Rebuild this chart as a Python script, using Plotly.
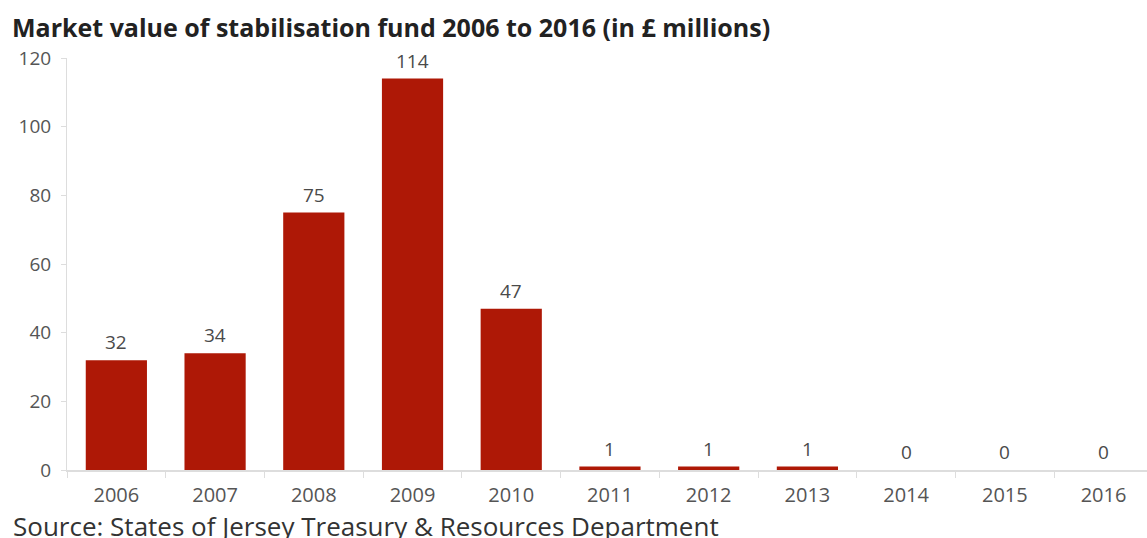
import plotly.graph_objects as go

years = ["2006", "2007", "2008", "2009", "2010", "2011", "2012", "2013", "2014", "2015", "2016"]
values = [32, 34, 75, 114, 47, 1, 1, 1, 0, 0, 0]
y_ticks = [0, 20, 40, 60, 80, 100, 120]

title_text = "Market value of stabilisation fund 2006 to 2016 (in £ millions)"
source_text = "Source: States of Jersey Treasury & Resources Department"

BAR = "#AE1806"
FONT = "Open Sans"

fig = go.Figure()
fig.add_trace(go.Bar(
    x=years, y=values, marker_color=BAR, marker_line_width=0,
    hoverinfo="x+y",
))

for i, v in enumerate(values):
    fig.add_annotation(
        x=i, y=v, text=str(v), showarrow=False,
        xref="x", yref="y", yanchor="bottom", yshift=3,
        font=dict(family=FONT, size=19, color="#4a4a4a"),
    )

fig.add_annotation(
    x=0, y=1, xref="paper", yref="paper", xanchor="left", yanchor="middle",
    xshift=-57, yshift=31, text="<b>" + title_text + "</b>", showarrow=False,
    font=dict(family=FONT, size=25, color="#222222"),
)
fig.add_annotation(
    x=0, y=0, xref="paper", yref="paper", xanchor="left", yanchor="middle",
    xshift=-56, yshift=-56, text=source_text, showarrow=False,
    font=dict(family=FONT, size=26, color="#333333"),
)

fig.update_layout(
    width=1147, height=538,
    margin=dict(l=67, r=0, t=58, b=68),
    plot_bgcolor="white", paper_bgcolor="white",
    bargap=0.38, showlegend=False,
    font=dict(family=FONT, size=19, color="#555555"),
)
fig.update_xaxes(
    type="category", range=[-0.5, 10.44], showline=True, linecolor="#dddddd",
    linewidth=1.5, ticks="outside", tickson="boundaries", ticklen=6,
    tickcolor="#dddddd", showgrid=False, ticklabelstandoff=6,
    tickfont=dict(family=FONT, size=20, color="#555555"),
)
fig.update_yaxes(
    range=[0, 120], tickvals=y_ticks, showline=True, linecolor="#dddddd",
    linewidth=1, ticks="outside", ticklen=5, tickcolor="#dddddd",
    showgrid=False, zeroline=False, ticklabelstandoff=6,
    tickfont=dict(family=FONT, size=19, color="#555555"),
)

fig.write_html("out.html")
